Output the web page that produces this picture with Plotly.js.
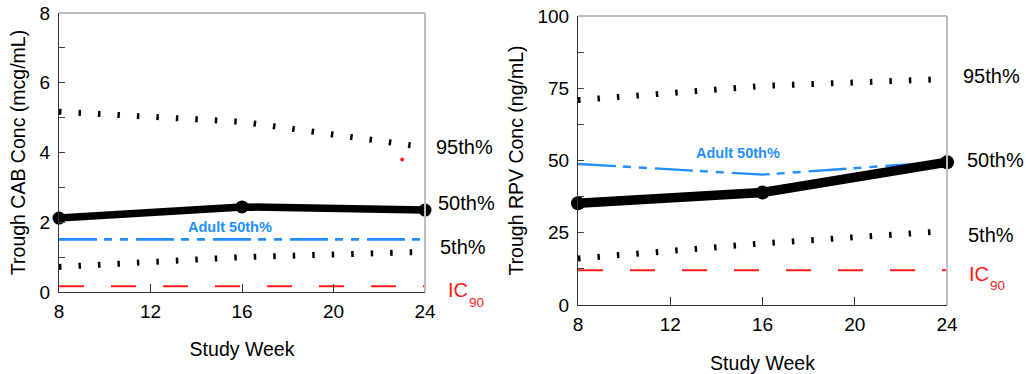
<!DOCTYPE html>
<html>
<head>
<meta charset="utf-8">
<script src="https://cdn.plot.ly/plotly-3.0.1.min.js"></script>
<style>
  html, body { margin: 0; padding: 0; background: #ffffff; }
  #chart { width: 1026px; height: 374px; }
</style>
</head>
<body>
<div id="chart"></div>
<script>
// ---- Data ----
const weeks = [8, 16, 24];
const weekTicks = [8, 12, 16, 20, 24];

// Left panel: cabotegravir (mcg/mL)
const cabP95 = [5.17, 4.88, 4.15];
const cabP50 = [2.12, 2.44, 2.35];
const cabP5 = [0.72, 1.0, 1.15];
const cabAdult50 = [1.51, 1.51, 1.51];
const cabIC90 = [0.166, 0.166, 0.166];
const cabOutlierWeek = [23];
const cabOutlier = [3.8];

// Right panel: rilpivirine (ng/mL)
const rpvP95 = [70.9, 75.8, 78.2];
const rpvP50 = [35.2, 38.9, 49.4];
const rpvP5 = [16.1, 21.3, 25.6];
const rpvAdult50 = [48.8, 45.1, 49.6];
const rpvIC90 = [12, 12, 12];

const pctLabels = ['95th%', '50th%', '5th%'];
const icMain = 'IC';
const icSub = '90';
const adultLabel = 'Adult 50th%';

// ---- Styling ----
const FONT = 'Liberation Sans, Arial, Helvetica, sans-serif';
const BLUE = '#1f8fff';
const RED = '#ff1a1a';
const W = 1026, H = 374;
const px = v => v / W;
const py = v => 1 - v / H;

const dotted = (x, y, xa, ya) => ({
  x, y, xaxis: xa, yaxis: ya, type: 'scatter', mode: 'lines',
  line: { color: '#000', width: 6, dash: '2.5px,17px' }, hoverinfo: 'skip'
});
const median = (x, y, xa, ya, w, ms) => ({
  x, y, xaxis: xa, yaxis: ya, type: 'scatter', mode: 'lines+markers',
  line: { color: '#000', width: w }, marker: { color: '#000', size: ms },
  cliponaxis: false, hoverinfo: 'skip'
});
const adult = (x, y, xa, ya, w) => ({
  x, y, xaxis: xa, yaxis: ya, type: 'scatter', mode: 'lines',
  line: { color: BLUE, width: w, dash: '38px,7px,8px,8px,8px,8px' }, hoverinfo: 'skip'
});
const ic = (x, y, xa, ya) => ({
  x, y, xaxis: xa, yaxis: ya, type: 'scatter', mode: 'lines',
  line: { color: RED, width: 2, dash: '25px,27px' }, hoverinfo: 'skip'
});

const traces = [
  ic(weeks, cabIC90, 'x', 'y'),
  dotted(weeks, cabP95, 'x', 'y'),
  dotted(weeks, cabP5, 'x', 'y'),
  adult(weeks, cabAdult50, 'x', 'y', 2.6),
  median(weeks, cabP50, 'x', 'y', 7.5, 13),
  { x: cabOutlierWeek, y: cabOutlier, xaxis: 'x', yaxis: 'y', type: 'scatter', mode: 'markers',
    marker: { color: RED, size: 4 }, hoverinfo: 'skip' },

  ic(weeks, rpvIC90, 'x2', 'y2'),
  dotted(weeks, rpvP95, 'x2', 'y2'),
  dotted(weeks, rpvP5, 'x2', 'y2'),
  adult(weeks, rpvAdult50, 'x2', 'y2', 2.4),
  median(weeks, rpvP50, 'x2', 'y2', 9.5, 14)
];

const tickFont = { family: FONT, size: 19, color: '#000' };
const titleFont = { family: FONT, size: 19.5, color: '#000' };

const xBase = (domain, anchor, standoff) => ({
  domain, anchor, range: [8, 24], tickvals: weekTicks,
  ticks: 'inside', ticklen: 8, tickcolor: '#333', tickwidth: 1,
  showline: true, linecolor: '#333', linewidth: 1,
  showgrid: false, zeroline: false, tickfont: tickFont,
  ticklabelstandoff: 2,
  title: { text: 'Study Week', font: titleFont, standoff }
});
const yBase = (domain, anchor, range, dtick, minorDtick, title) => ({
  domain, anchor, range, dtick,
  ticks: 'inside', ticklen: 6, tickcolor: '#444', tickwidth: 1,
  minor: { dtick: minorDtick, ticks: 'inside', ticklen: 6, tickcolor: '#444', showgrid: false },
  showline: true, linecolor: '#333', linewidth: 1,
  showgrid: false, zeroline: false, tickfont: tickFont,
  ticklabelstandoff: 4,
  title: { text: title, font: titleFont, standoff: 8 }
});

const frame = (xr, yr) => ([
  { type: 'line', xref: xr + ' domain', yref: yr + ' domain', x0: 0, x1: 1, y0: 1, y1: 1,
    line: { color: '#bdbdbd', width: 2 } },
  { type: 'line', xref: xr + ' domain', yref: yr + ' domain', x0: 1, x1: 1, y0: 0, y1: 1,
    line: { color: '#bdbdbd', width: 2 } }
]);

const lab = (text, x, y, color, size) => ({
  text, x: px(x), y: py(y), xref: 'paper', yref: 'paper', xanchor: 'left', yanchor: 'middle',
  showarrow: false, font: { family: FONT, size: size || 20, color: color || '#000' }
});
const adultLab = (x, y) => ({
  text: '<b>' + adultLabel + '</b>', x: px(x), y: py(y), xref: 'paper', yref: 'paper',
  xanchor: 'center', yanchor: 'middle', showarrow: false,
  font: { family: FONT, size: 14.5, color: BLUE }
});

const layout = {
  width: W, height: H,
  margin: { l: 0, r: 0, t: 0, b: 0 },
  paper_bgcolor: '#fff', plot_bgcolor: '#fff',
  showlegend: false,
  xaxis: xBase([px(59), px(425)], 'y', 21),
  yaxis: yBase([1 - 292 / H, 1 - 13 / H], 'x', [0, 8], 2, 1, 'Trough CAB Conc (mcg/mL)'),
  xaxis2: xBase([px(578), px(947)], 'y2', 23),
  yaxis2: yBase([1 - 305 / H, 1 - 16 / H], 'x2', [0, 100], 25, 12.5, 'Trough RPV Conc (ng/mL)'),
  shapes: [...frame('x', 'y'), ...frame('x2', 'y2')],
  annotations: [
    lab(pctLabels[0], 434, 147), lab(pctLabels[1], 436, 203), lab(pctLabels[2], 438, 247),
    lab(icMain, 446, 290, RED, 20), lab(icSub, 467, 302, RED, 13.5),
    lab(pctLabels[0], 961, 76), lab(pctLabels[1], 965, 160), lab(pctLabels[2], 966, 235),
    lab(icMain, 967, 274, RED, 20), lab(icSub, 988, 285, RED, 13.5),
    adultLab(230, 227), adultLab(738, 153)
  ]
};

Plotly.newPlot('chart', traces, layout, { staticPlot: true, displayModeBar: false });
</script>
</body>
</html>
